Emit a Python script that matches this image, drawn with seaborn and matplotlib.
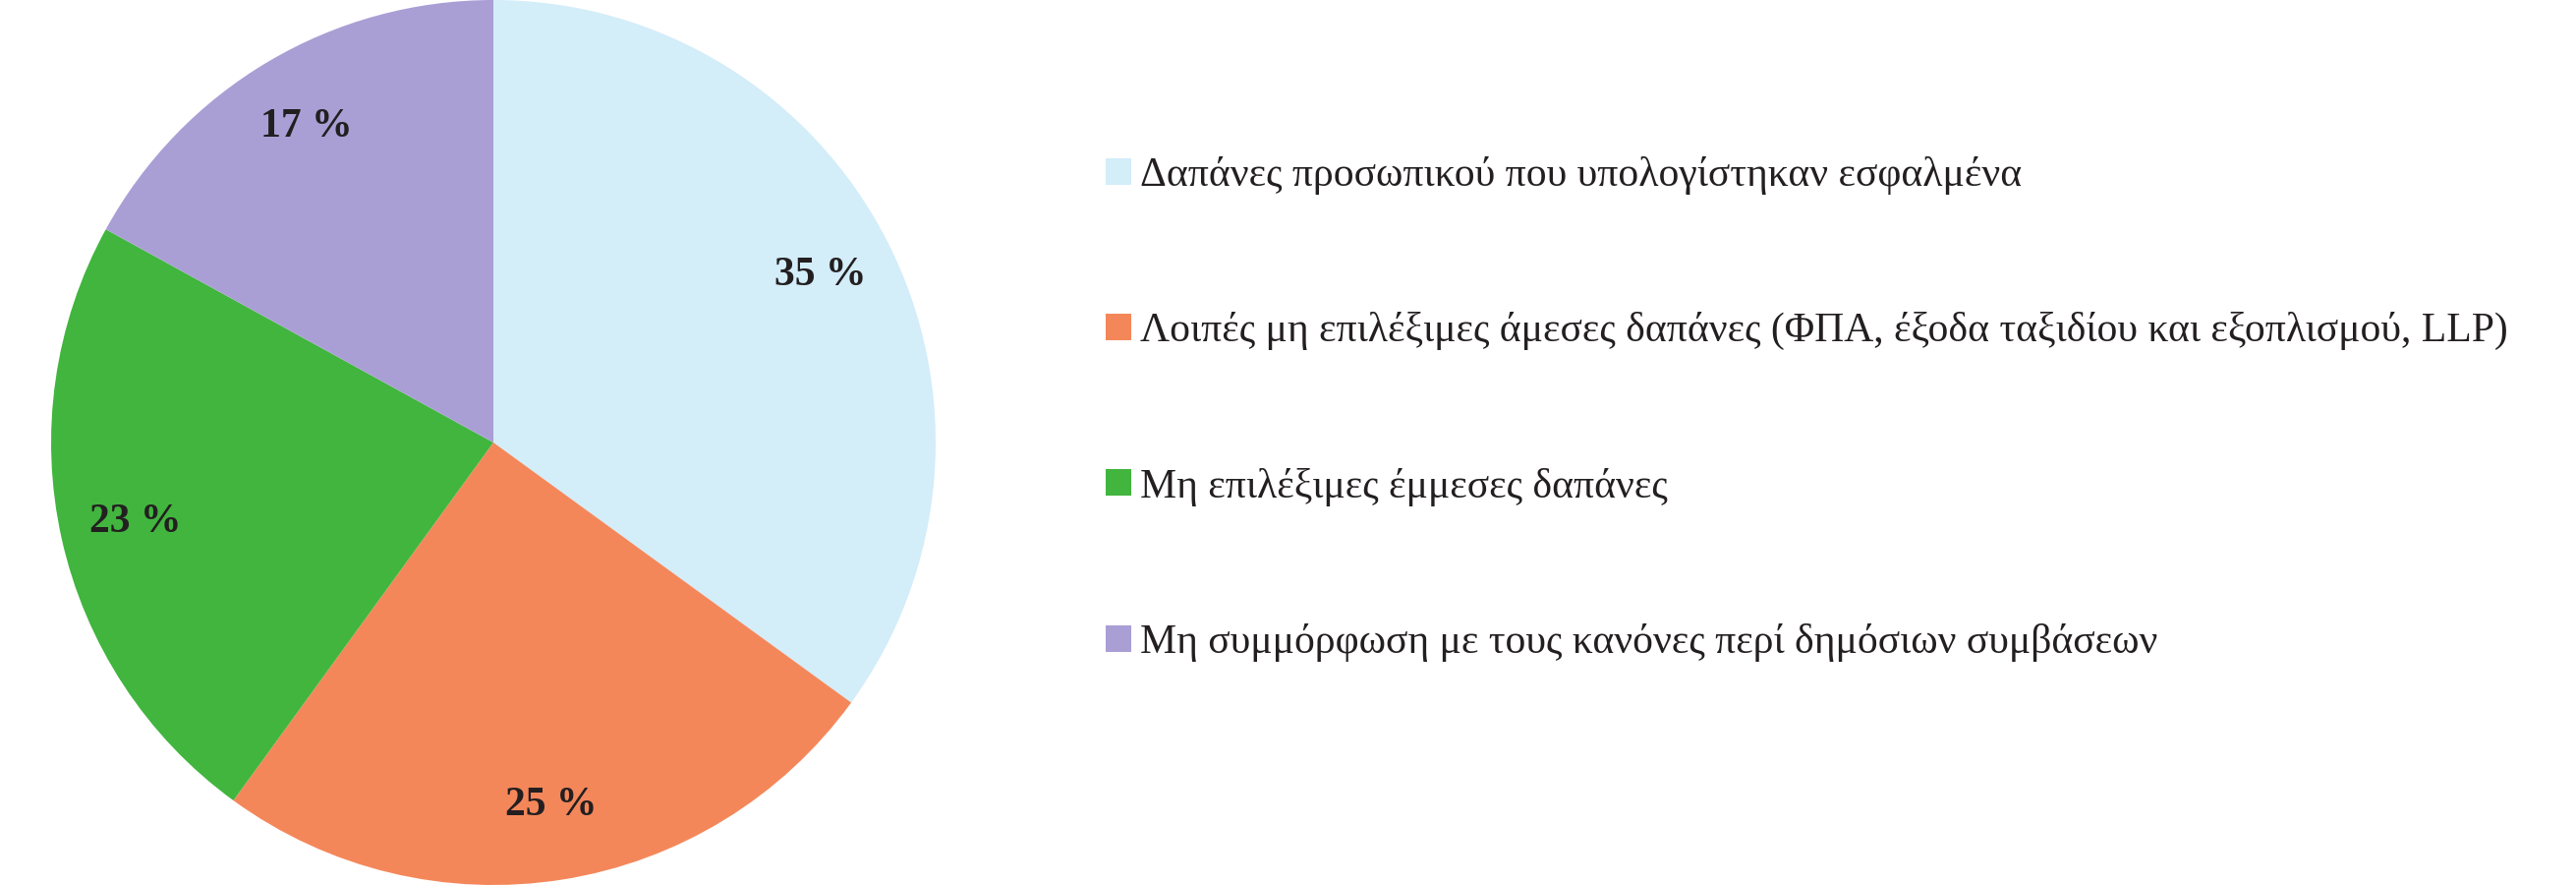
import matplotlib
matplotlib.use("Agg")
import matplotlib.pyplot as plt
import seaborn as sns

# Data
categories = [
    "Δαπάνες προσωπικού που υπολογίστηκαν εσφαλμένα",
    "Λοιπές μη επιλέξιμες άμεσες δαπάνες (ΦΠΑ, έξοδα ταξιδίου και εξοπλισμού, LLP)",
    "Μη επιλέξιμες έμμεσες δαπάνες",
    "Μη συμμόρφωση με τους κανόνες περί δημόσιων συμβάσεων",
]
shares = [35, 25, 23, 17]
colors = ["#d3edf9", "#f4875a", "#41b53e", "#a99fd5"]

sns.set_theme(style="white")
plt.rcParams['font.family'] = ['Liberation Serif', 'DejaVu Serif']
text_color = "#231f20"

fig = plt.figure(figsize=(26.21, 9), dpi=100)
ax = fig.add_axes([52 / 2621, 0, 900 / 2621, 1])

wedges, texts, autotexts = ax.pie(
    shares, colors=colors, startangle=90, counterclock=False,
    autopct=lambda p: f"{round(p)} %", pctdistance=0.83,
    wedgeprops={"linewidth": 0},
    textprops={"fontsize": 30, "fontweight": "bold", "color": text_color},
)
ax.set_xlim(-1, 1)
ax.set_ylim(-1, 1)
ax.set_aspect("equal")
ax.axis("off")

# Legend on the right
fig.legend(
    wedges, categories, loc="center left",
    bbox_to_anchor=(1125 / 2621, 1 - 416 / 900),
    frameon=False, fontsize=30, borderpad=0, borderaxespad=0,
    handlelength=0.62, handleheight=0.62, handletextpad=0.22,
    labelspacing=2.86, labelcolor=text_color,
)

fig.savefig("out.png", dpi=100)
